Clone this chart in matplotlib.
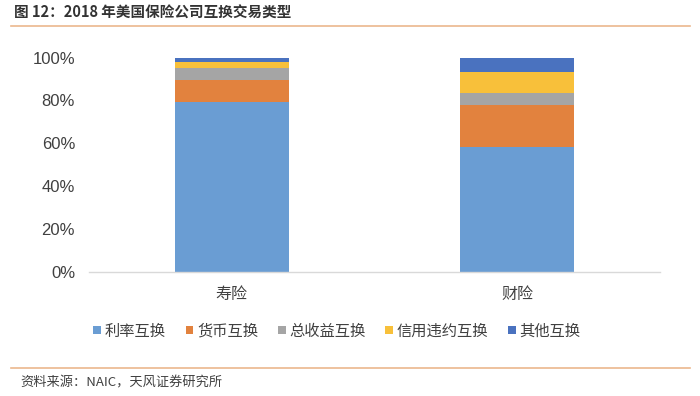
import matplotlib
matplotlib.use("Agg")
import matplotlib.pyplot as plt
from matplotlib.lines import Line2D
from matplotlib.patches import Patch
import numpy as np

plt.rcParams['font.family'] = ['Noto Sans CJK SC', 'DejaVu Sans']

categories = ["寿险", "财险"]
series_names = ["利率互换", "货币互换", "总收益互换", "信用违约互换", "其他互换"]
interest_rate = [79.1, 58.3]
currency = [10.6, 19.7]
total_return = [5.5, 5.5]
credit_default = [2.9, 9.6]
other = [1.9, 6.9]
series_values = [interest_rate, currency, total_return, credit_default, other]
colors = ["#6A9DD3", "#E2823E", "#A5A5A5", "#F8C03A", "#4A72BF"]
yticks = [0, 20, 40, 60, 80, 100]
ytick_labels = ["0%", "20%", "40%", "60%", "80%", "100%"]

W, H = 700, 396
fig = plt.figure(figsize=(W / 100, H / 100), dpi=100)
ax = fig.add_axes([89 / W, 1 - 271.7 / H, (660 - 89) / W, (271.7 - 57.5) / H])

x = np.arange(len(categories))
bottom = np.zeros(len(categories))
for name, vals, c in zip(series_names, series_values, colors):
    ax.bar(x, vals, width=0.4, bottom=bottom, color=c, label=name)
    bottom += np.array(vals)

ax.set_xlim(-0.5, 1.5)
ax.set_ylim(0, 100)
ax.set_yticks(yticks)
ax.set_yticklabels(ytick_labels, family=['Liberation Sans', 'DejaVu Sans'], fontsize=12)
ax.set_xticks(x)
ax.set_xticklabels(categories, fontsize=11.5)
for s in ["top", "right", "left"]:
    ax.spines[s].set_visible(False)
ax.spines["bottom"].set_color("#D9D9D9")
ax.spines["bottom"].set_linewidth(1.0)
ax.tick_params(axis="both", length=0, colors="#404040")
ax.tick_params(axis="y", pad=10)
ax.tick_params(axis="x", pad=10)

handles = [Patch(facecolor=c, edgecolor="none") for c in colors]
fig.legend(handles, series_names, loc="center", bbox_to_anchor=(337 / W, 1 - 331 / H),
           ncol=5, frameon=False, fontsize=11, handlelength=0.5, handleheight=0.5,
           handletextpad=0.25, columnspacing=1.3, labelcolor="#404040")

# title and decorations
fig.text(14 / W, 1 - 13 / H, "图 12：2018 年美国保险公司互换交易类型", fontsize=10.5,
         fontweight="bold", color="#333333", va="center", ha="left")
fig.add_artist(Line2D([11 / W, 690 / W], [1 - 25.5 / H] * 2, color="#EBB88E", lw=1.2))
fig.add_artist(Line2D([11 / W, 690 / W], [1 - 368 / H] * 2, color="#EBB88E", lw=1.2))
fig.text(20 / W, 1 - 383 / H, "资料来源：NAIC，天风证券研究所", fontsize=9.5,
         color="#404040", va="center", ha="left")

fig.savefig("out.png", dpi=100)
